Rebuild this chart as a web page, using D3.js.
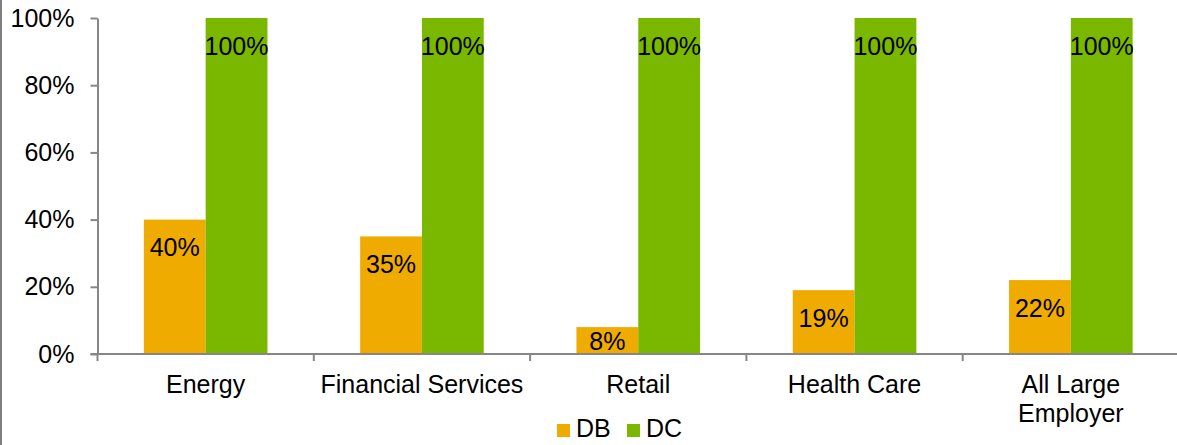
<!DOCTYPE html>
<html>
<head>
<meta charset="utf-8">
<script src="https://cdn.jsdelivr.net/npm/d3@7/dist/d3.min.js"></script>
<style>
  html, body { margin: 0; padding: 0; background: #fff; }
  svg { display: block; font-family: "Liberation Sans", Arial, sans-serif; }
</style>
</head>
<body>
<svg id="chart" width="1177" height="445"></svg>
<script>
// Share of large employers offering each plan type, by industry
const categories = ["Energy", "Financial Services", "Retail", "Health Care", "All Large Employer"];
const seriesNames = ["DB", "DC"];
const dbValues = [0.40, 0.35, 0.08, 0.19, 0.22];
const dcValues = [1.00, 1.00, 1.00, 1.00, 1.00];
const yTickValues = [0, 0.2, 0.4, 0.6, 0.8, 1.0];
const colors = { DB: "#F0AB00", DC: "#7AB800" };

const W = 1177, H = 445;
const plot = { left: 97.5, top: 18, bottom: 354, groupWidth: 216.3 };
const fontSize = 25;

const svg = d3.select("#chart");

// left frame edge
svg.append("line")
  .attr("x1", 1).attr("x2", 1).attr("y1", 0).attr("y2", H)
  .attr("stroke", "#7f7f7f").attr("stroke-width", 2);

const x0 = d3.scaleBand()
  .domain(categories)
  .range([plot.left, plot.left + categories.length * plot.groupWidth])
  .paddingInner(0).paddingOuter(0);

const x1 = d3.scaleBand()
  .domain(seriesNames)
  .range([0, x0.bandwidth()])
  .paddingInner(0).paddingOuter(0.75);

const y = d3.scaleLinear().domain([0, 1]).range([plot.bottom, plot.top]);

const rows = categories.map((c, i) => ({ category: c, DB: dbValues[i], DC: dcValues[i] }));

// bars
const groups = svg.append("g").selectAll("g")
  .data(rows).join("g")
  .attr("transform", d => `translate(${x0(d.category)},0)`);

groups.selectAll("rect")
  .data(d => seriesNames.map(s => ({ key: s, value: d[s] })))
  .join("rect")
  .attr("x", d => x1(d.key))
  .attr("y", d => y(d.value))
  .attr("width", x1.bandwidth())
  .attr("height", d => y(0) - y(d.value))
  .attr("fill", d => colors[d.key]);

// value labels, inside the bar end
groups.selectAll("text.value")
  .data(d => seriesNames.map(s => ({ key: s, value: d[s] })))
  .join("text")
  .attr("class", "value")
  .attr("x", d => x1(d.key) + x1.bandwidth() / 2)
  .attr("y", d => Math.min(y(d.value) + 27.5, (y(d.value) + y(0)) / 2))
  .attr("text-anchor", "middle")
  .attr("dominant-baseline", "central")
  .attr("font-size", fontSize)
  .attr("fill", "#000")
  .text(d => d3.format(".0%")(d.value));

// y axis
const yAxis = svg.append("g")
  .attr("transform", `translate(${plot.left},0)`)
  .call(d3.axisLeft(y).tickValues(yTickValues).tickFormat(d3.format(".0%"))
    .tickSize(7).tickSizeOuter(0).tickPadding(16));
yAxis.select(".domain").attr("stroke", "#868686").attr("stroke-width", 2);
yAxis.selectAll(".tick line").attr("stroke", "#868686").attr("stroke-width", 2);
yAxis.selectAll(".tick text")
  .attr("font-size", fontSize).attr("fill", "#000")
  .attr("font-family", "Liberation Sans, Arial, sans-serif");

// x axis baseline, group boundary ticks and category labels
const xAxis = svg.append("g").attr("transform", `translate(0,${plot.bottom})`);
xAxis.append("line")
  .attr("x1", plot.left - 7).attr("x2", W)
  .attr("stroke", "#868686").attr("stroke-width", 2);

const boundaries = categories.map(c => x0(c)).concat([x0.range()[1]]);
xAxis.selectAll("line.bound")
  .data(boundaries).join("line")
  .attr("class", "bound")
  .attr("x1", d => d).attr("x2", d => d)
  .attr("y1", 0).attr("y2", 7)
  .attr("stroke", "#868686").attr("stroke-width", 2);

const catLabels = xAxis.selectAll("text.cat")
  .data(categories).join("text")
  .attr("class", "cat")
  .attr("x", d => x0(d) + x0.bandwidth() / 2)
  .attr("y", 39)
  .attr("text-anchor", "middle")
  .attr("font-size", fontSize)
  .attr("fill", "#000")
  .text(d => d);

// wrap long category names onto extra lines
function wrap(sel, width, lineHeight) {
  sel.each(function () {
    const text = d3.select(this);
    const words = text.text().split(/\s+/);
    const x = text.attr("x");
    text.text(null);
    let line = [];
    let tspan = text.append("tspan").attr("x", x).attr("dy", 0);
    let lineNo = 0;
    words.forEach(w => {
      line.push(w);
      tspan.text(line.join(" "));
      if (tspan.node().getComputedTextLength() > width && line.length > 1) {
        line.pop();
        tspan.text(line.join(" "));
        line = [w];
        lineNo++;
        tspan = text.append("tspan").attr("x", x).attr("dy", lineHeight).text(w);
      }
    });
  });
}
catLabels.call(wrap, 204, 29);

// legend
const legend = svg.append("g").attr("transform", "translate(557,437)");
const legendItems = legend.selectAll("g")
  .data(seriesNames).join("g")
  .attr("transform", (d, i) => `translate(${i * 70},0)`);
legendItems.append("rect")
  .attr("x", 0).attr("y", -13).attr("width", 13).attr("height", 13)
  .attr("fill", d => colors[d]);
legendItems.append("text")
  .attr("x", 19).attr("y", 0)
  .attr("font-size", fontSize).attr("fill", "#000")
  .text(d => d);
</script>
</body>
</html>
